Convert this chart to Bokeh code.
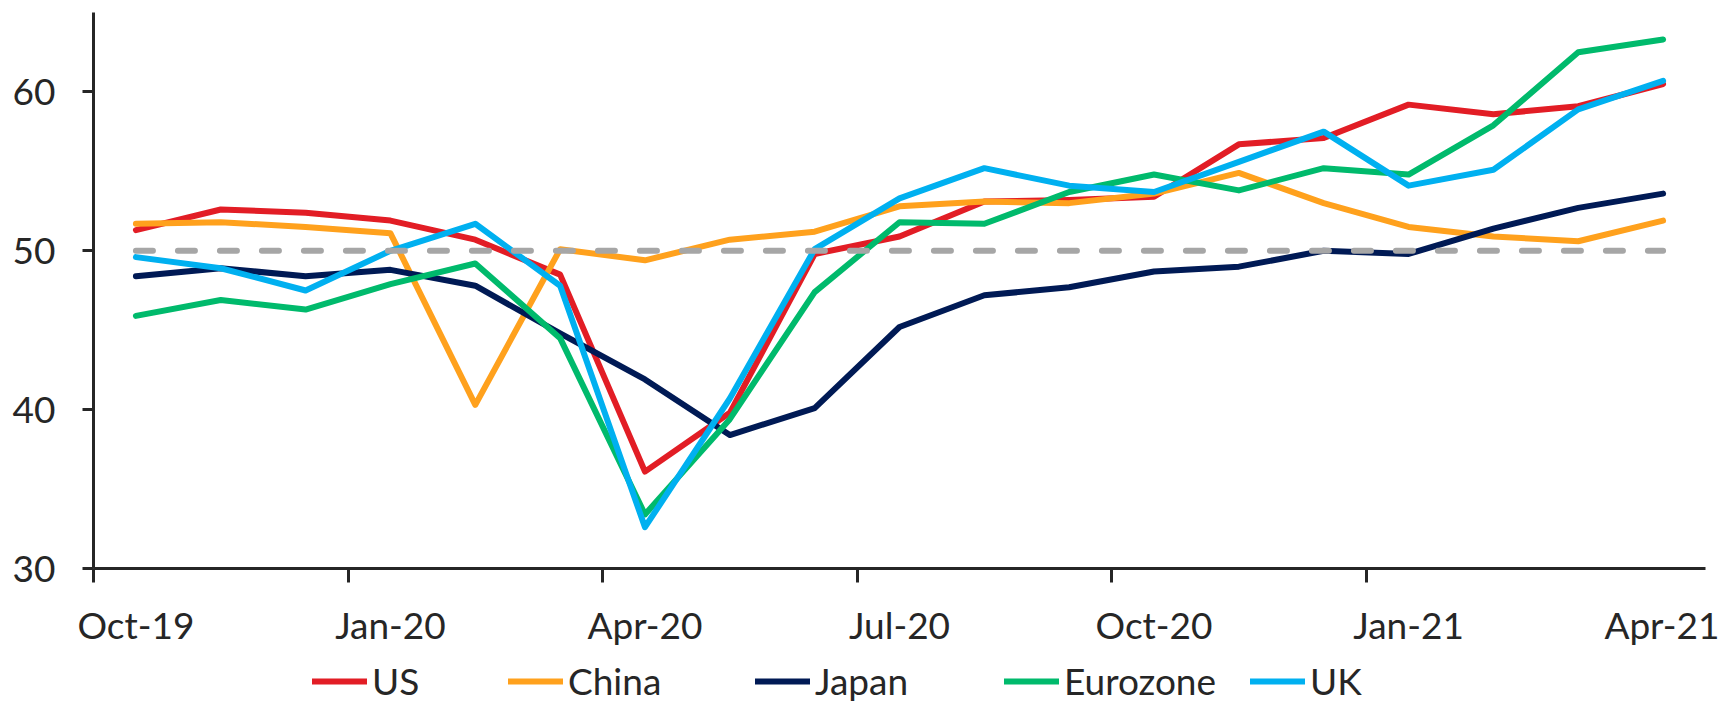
from bokeh.plotting import figure
from bokeh.layouts import column
from bokeh.models import Range1d, FixedTicker, Legend, LegendItem, ColumnDataSource
from bokeh.embed import file_html
from bokeh.resources import INLINE

months = ["Oct-19", "Nov-19", "Dec-19", "Jan-20", "Feb-20", "Mar-20", "Apr-20",
          "May-20", "Jun-20", "Jul-20", "Aug-20", "Sep-20", "Oct-20", "Nov-20",
          "Dec-20", "Jan-21", "Feb-21", "Mar-21", "Apr-21"]
us = [51.3, 52.6, 52.4, 51.9, 50.7, 48.5, 36.1, 39.8, 49.8, 50.9, 53.1, 53.2,
      53.4, 56.7, 57.1, 59.2, 58.6, 59.1, 60.5]
china = [51.7, 51.8, 51.5, 51.1, 40.3, 50.1, 49.4, 50.7, 51.2, 52.8, 53.1, 53.0,
         53.6, 54.9, 53.0, 51.5, 50.9, 50.6, 51.9]
japan = [48.4, 48.9, 48.4, 48.8, 47.8, 44.8, 41.9, 38.4, 40.1, 45.2, 47.2, 47.7,
         48.7, 49.0, 50.0, 49.8, 51.4, 52.7, 53.6]
eurozone = [45.9, 46.9, 46.3, 47.9, 49.2, 44.5, 33.4, 39.4, 47.4, 51.8, 51.7, 53.7,
            54.8, 53.8, 55.2, 54.8, 57.9, 62.5, 63.3]
uk = [49.6, 48.9, 47.5, 50.0, 51.7, 47.8, 32.6, 40.7, 50.1, 53.3, 55.2, 54.1,
      53.7, 55.6, 57.5, 54.1, 55.1, 58.9, 60.7]
threshold = [50.0] * len(months)
y_ticks = [30, 40, 50, 60]
label_every = 3

series_names = ["US", "China", "Japan", "Eurozone", "UK"]
series_cols = ["us", "china", "japan", "eurozone", "uk"]
series_colors = ["#E21D25", "#FFA11D", "#001A55", "#00BA6C", "#00B0F0"]
# legend entry offsets (px from the plot frame's left edge)
legend_offsets = [219, 415, 662, 911, 1157]

FONT = "Lato"
FSIZE = "37px"
TXT = "#262626"

x = list(range(len(months)))
src = ColumnDataSource(dict(x=x, us=us, china=china, japan=japan,
                            eurozone=eurozone, uk=uk, threshold=threshold))

W = 1719
H_MAIN = 652
H_LEG = 51

p = figure(width=W, height=H_MAIN, output_backend="svg", toolbar_location=None,
           x_range=Range1d(-0.5, len(months) - 0.5), y_range=Range1d(30, 65),
           min_border_left=93, min_border_right=14, min_border_top=12,
           min_border_bottom=84)
p.outline_line_color = None
p.grid.visible = False
p.background_fill_color = "white"
p.border_fill_color = "white"

# x axis: labels on categories, tick marks at category boundaries
major = [i for i in x if i % label_every == 0]
minor = [i - 0.5 for i in major if i < len(months) - 1]
xa = p.xaxis[0]
xa.ticker = FixedTicker(ticks=major, minor_ticks=minor)
xa.major_label_overrides = {i: months[i] for i in major}
xa.major_tick_line_color = None
xa.major_tick_out = 14
xa.major_tick_in = 0
xa.minor_tick_out = 14
xa.minor_tick_in = 0
xa.minor_tick_line_width = 3
xa.minor_tick_line_color = TXT
xa.axis_line_width = 3
xa.axis_line_color = TXT
xa.major_label_standoff = 19
xa.major_label_text_font = FONT
xa.major_label_text_font_size = FSIZE
xa.major_label_text_color = TXT

ya = p.yaxis[0]
ya.ticker = FixedTicker(ticks=y_ticks)
ya.major_tick_out = 11
ya.major_tick_in = 0
ya.major_tick_line_width = 3
ya.major_tick_line_color = TXT
ya.minor_tick_line_color = None
ya.axis_line_width = 3
ya.axis_line_color = TXT
ya.major_label_standoff = 27
ya.major_label_text_font = FONT
ya.major_label_text_font_size = FSIZE
ya.major_label_text_color = TXT

for col, color in zip(series_cols, series_colors):
    p.line("x", col, source=src, line_color=color, line_width=6,
           line_join="round", line_cap="round")

p.line("x", "threshold", source=src, line_color="#A6A6A6", line_width=6,
       line_dash="17 25", line_cap="round")

# legend strip below the chart
pl = figure(width=W, height=H_LEG, output_backend="svg", toolbar_location=None,
            x_range=Range1d(-0.5, len(months) - 0.5), y_range=Range1d(30, 65),
            min_border=0, x_axis_location=None, y_axis_location=None)
pl.outline_line_color = None
pl.grid.visible = False
pl.border_fill_color = "white"
for name, col, color, off in zip(series_names, series_cols, series_colors, legend_offsets):
    r = pl.line("x", col, source=src, line_color=color, line_width=6,
                line_join="round", line_cap="round", visible=False)
    lg = Legend(items=[LegendItem(label=name, renderers=[r])],
                orientation="horizontal", location=(off, 0),
                glyph_width=55, glyph_height=20, label_standoff=5,
                padding=0, margin=0, border_line_color=None,
                background_fill_alpha=0,
                label_text_font=FONT, label_text_font_size=FSIZE,
                label_text_color=TXT)
    pl.add_layout(lg, "center")

layout = column(p, pl, spacing=0)
open("out.html", "w").write(file_html(layout, INLINE))
